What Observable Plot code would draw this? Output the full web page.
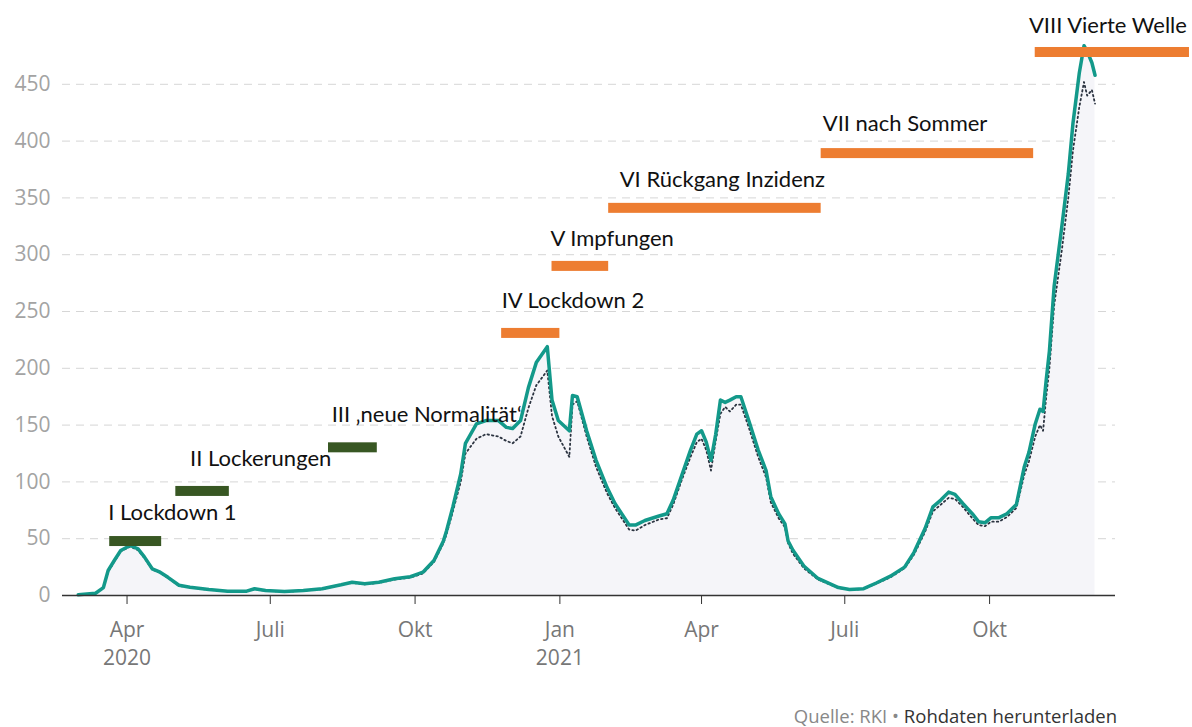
<!DOCTYPE html>
<html>
<head>
<meta charset="utf-8">
<script src="https://cdn.jsdelivr.net/npm/d3@7"></script>
<script src="https://cdn.jsdelivr.net/npm/@observablehq/plot@0.6"></script>
<style>
  body { margin: 0; background: #fff; }
  #chart svg { display: block; }
  .caption {
    width: 1192px; box-sizing: border-box; padding-right: 75px;
    text-align: right; font-family: "Open Sans", sans-serif; font-size: 18.5px;
    line-height: 22px; margin-top: 25px; color: #888;
  }
  .caption .dl { color: #333; }
</style>
</head>
<body>
<div id="chart"></div>
<div class="caption">Quelle: RKI • <span class="dl">Rohdaten herunterladen</span></div>
<script>
// ---- Data (7-Tage-Inzidenz) ----
const dates = [
  "2020-03-01","2020-03-12","2020-03-17","2020-03-20","2020-03-24","2020-03-28","2020-04-03","2020-04-08",
  "2020-04-12","2020-04-17","2020-04-22","2020-04-27","2020-05-04","2020-05-11","2020-05-23","2020-06-04",
  "2020-06-16","2020-06-21","2020-06-28","2020-07-10","2020-07-22","2020-08-03","2020-08-15","2020-08-22",
  "2020-08-30","2020-09-08","2020-09-18","2020-09-28","2020-10-03","2020-10-06","2020-10-13","2020-10-19",
  "2020-10-21","2020-10-25","2020-10-30","2020-11-02","2020-11-09","2020-11-15","2020-11-23","2020-11-28",
  "2020-12-02","2020-12-07","2020-12-12","2020-12-17","2020-12-24","2020-12-27","2020-12-31","2021-01-07",
  "2021-01-09","2021-01-12","2021-01-18","2021-01-24","2021-01-31","2021-02-05","2021-02-14","2021-02-18",
  "2021-02-24","2021-03-05","2021-03-10","2021-03-14","2021-03-19","2021-03-25","2021-03-29","2021-04-01",
  "2021-04-04","2021-04-07","2021-04-10","2021-04-13","2021-04-16","2021-04-19","2021-04-23","2021-04-26",
  "2021-05-01","2021-05-07","2021-05-12","2021-05-15","2021-05-20","2021-05-24","2021-05-26","2021-05-29",
  "2021-06-05","2021-06-14","2021-06-21","2021-06-27","2021-07-04","2021-07-13","2021-07-21","2021-07-30",
  "2021-08-08","2021-08-14","2021-08-21","2021-08-26","2021-08-31","2021-09-05","2021-09-09","2021-09-14",
  "2021-09-20","2021-09-24","2021-09-28","2021-10-02","2021-10-07","2021-10-12","2021-10-18","2021-10-23",
  "2021-10-26","2021-10-30","2021-11-02","2021-11-04","2021-11-06","2021-11-08","2021-11-11","2021-11-16",
  "2021-11-20","2021-11-23","2021-11-27","2021-11-30","2021-12-02","2021-12-05","2021-12-07"
];
const incidence = [
  0.6, 2, 7, 22, 31, 39.6, 44, 41,
  34, 23.5, 20.5, 16, 9, 7.3, 5.3, 3.8,
  3.8, 5.9, 4.4, 3.5, 4.4, 5.9, 9.4, 11.7,
  10.3, 11.7, 14.7, 16.5, 19, 20.5, 30.8, 48,
  57, 78, 107, 134, 151, 154, 154, 148,
  147, 154, 183, 205, 219, 172, 154, 145,
  176, 175, 145, 119, 95, 81, 62, 62,
  66, 70, 72, 84, 104, 128, 142, 145,
  135, 119, 142, 172, 170, 172, 175, 175,
  154, 128, 110, 87, 72, 63, 48, 40,
  26, 15, 10.6, 7, 5.3, 6, 11, 17,
  25, 38, 59, 78, 84, 91, 89, 81,
  72, 65, 64, 68.5, 68.5, 72, 80, 113,
  126, 151, 164, 162, 190, 215, 272, 326,
  371, 416, 460, 484, 479, 469, 458
];
const incidenceEarlier = [
  0.6, 2, 7, 21, 30, 39, 43, 40,
  33, 23, 20, 15.5, 8.5, 7, 5, 3.6,
  3.6, 5.6, 4.2, 3.3, 4.2, 5.6, 9, 11.2,
  9.8, 11.2, 14, 15.8, 18, 19.5, 29.5, 46,
  54, 74, 100, 125, 138, 142, 140, 136,
  134, 140, 165, 185, 198, 158, 140, 122,
  168, 171, 140, 113, 90, 77, 58, 57,
  62, 67, 68, 80, 100, 122, 135, 138,
  128, 110, 136, 160, 166, 162, 168, 168,
  148, 122, 104, 82, 68, 60, 46, 37,
  24, 14, 10, 6.6, 5, 5.7, 10.4, 16,
  24, 36, 56, 74, 80, 86, 85, 78,
  68, 62, 61, 65, 65, 69, 77, 106,
  118, 140, 150, 145, 175, 200, 255, 305,
  350, 392, 430, 452, 440, 445, 433
];

// Phases (annotations)
const phaseLabels = ["I Lockdown 1","II Lockerungen","III \u201Aneue Normalit\u00E4t\u2018","IV Lockdown 2",
                     "V Impfungen","VI R\u00FCckgang Inzidenz","VII nach Sommer","VIII Vierte Welle"];
const phaseStart = ["2020-03-21","2020-05-02","2020-08-07","2020-11-25","2020-12-27","2021-02-01","2021-06-16","2021-10-30"];
const phaseEnd   = ["2020-04-23","2020-06-05","2020-09-07","2021-01-01","2021-02-01","2021-06-16","2021-10-29","2022-02-05"];
const phaseLevel = [47.5, 91.6, 130, 230.7, 289.7, 340.8, 389, 478];
const phaseGroup = ["Lockdown-Phase","Lockdown-Phase","Lockdown-Phase","Zweite Phase","Zweite Phase","Zweite Phase","Zweite Phase","Zweite Phase"];
const labelDate  = ["2020-03-20","2020-05-11","2020-08-09","2020-11-25","2020-12-26","2021-02-08","2021-06-17","2021-10-26"];
const labelLevel = [73, 120.6, 158.5, 258.9, 313.5, 365.4, 414.8, 501];

// Axis ticks
const yTicks = [0, 50, 100, 150, 200, 250, 300, 350, 400, 450];
const xTickDates = ["2020-04-01","2020-07-01","2020-10-01","2021-01-01","2021-04-01","2021-07-01","2021-10-01"];
const xTickMonths = ["Apr","Juli","Okt","Jan","Apr","Juli","Okt"];
const yearDates = ["2020-04-01","2021-01-01"];
const yearLabels = ["2020","2021"];

// ---- Build ----
const parse = d3.utcParse("%Y-%m-%d");
const data = dates.map((d, i) => ({date: parse(d), value: incidence[i], earlier: incidenceEarlier[i]}));
const phases = phaseLabels.map((label, i) => ({
  label, start: parse(phaseStart[i]), end: parse(phaseEnd[i]), level: phaseLevel[i],
  group: phaseGroup[i], labelDate: parse(labelDate[i]), labelLevel: labelLevel[i]
}));
const xTicks = xTickDates.map(parse);
const monthOf = new Map(xTickDates.map((d, i) => [+parse(d), xTickMonths[i]]));
const yearTicks = yearDates.map(parse);
const yearOf = new Map(yearDates.map((d, i) => [+parse(d), yearLabels[i]]));
const half = 4.4;

const chart = Plot.plot({
  width: 1192,
  height: 680,
  marginLeft: 62,
  marginRight: 77,
  marginTop: 27,
  marginBottom: 85,
  style: {background: "#fff", overflow: "visible", fontFamily: "'Open Sans', sans-serif"},
  x: {type: "utc", domain: [parse("2020-02-20"), parse("2021-12-20")]},
  y: {domain: [0, 500]},
  color: {domain: ["Lockdown-Phase", "Zweite Phase"], range: ["#385723", "#ed7d31"]},
  marks: [
    Plot.gridY(yTicks.slice(1), {stroke: "#d6d6d6", strokeOpacity: 1, strokeWidth: 1, strokeDasharray: "8,6"}),
    Plot.areaY(data, {x: "date", y: "value", fill: "#f5f5f9"}),
    Plot.line(data, {x: "date", y: "earlier", stroke: "#2b3340", strokeWidth: 1.8, strokeDasharray: "1.5,3"}),
    Plot.line(data, {x: "date", y: "value", stroke: "#13998a", strokeWidth: 3.5, strokeLinejoin: "round"}),
    Plot.ruleY([0], {stroke: "#333", strokeWidth: 1.5}),
    Plot.axisY({ticks: yTicks, tickSize: 0, tickPadding: 12, fontSize: 21, fill: "#a3a3a3", label: null}),
    Plot.axisX({ticks: xTicks, tickSize: 9, tickPadding: 18, fontSize: 21, stroke: "#333", fill: "#777",
                tickFormat: d => monthOf.get(+d), label: null}),
    Plot.axisX({ticks: yearTicks, tickSize: 0, tickPadding: 55, fontSize: 21, fill: "#777",
                tickFormat: d => yearOf.get(+d), label: null}),
    Plot.rect(phases, {x1: "start", x2: "end", y1: d => d.level - half, y2: d => d.level + half, fill: "group"}),
    Plot.text(phases, {x: "labelDate", y: "labelLevel", text: "label", textAnchor: "start",
                       fontSize: 22, fontFamily: "Lato, sans-serif", fill: "#111"})
  ]
});
document.getElementById("chart").appendChild(chart);
</script>
</body>
</html>
